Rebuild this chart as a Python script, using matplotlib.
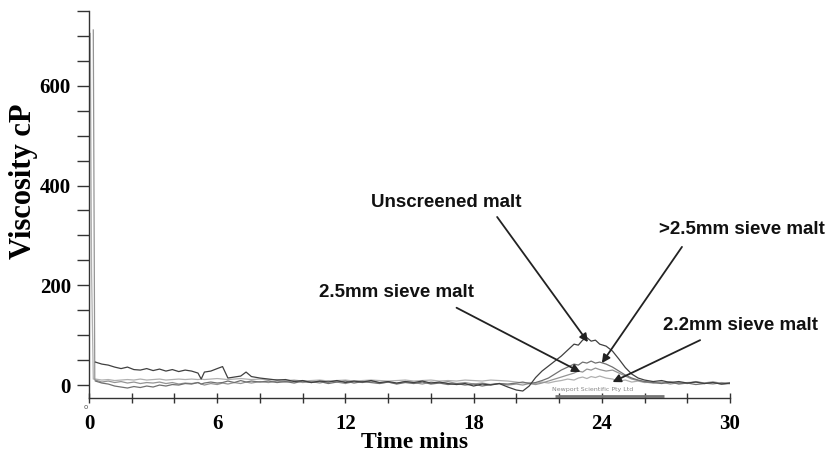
import numpy as np
import matplotlib
matplotlib.use('Agg')
import matplotlib.pyplot as plt

# shared time grid (minutes)
t = [0.3, 0.6, 0.9, 1.2, 1.5, 1.8, 2.1, 2.4, 2.7, 3.0, 3.3, 3.6, 3.9, 4.2, 4.5, 4.8, 5.1,
     5.25, 5.4, 5.7, 6.0, 6.25, 6.5, 6.8, 7.1, 7.35, 7.6,
     8.0, 8.4, 8.8, 9.2, 9.6, 10.0, 10.4, 10.8, 11.2, 11.6, 12.0, 12.4, 12.8, 13.2, 13.6,
     14.0, 14.4, 14.8, 15.2, 15.6, 16.0, 16.4, 16.8, 17.2, 17.6, 18.0, 18.4, 18.8, 19.2,
     19.6, 20.0,
     20.3, 20.6, 20.9, 21.2, 21.5, 21.8, 22.1, 22.4, 22.7,
     22.9, 23.1, 23.3, 23.5, 23.7, 23.9,
     24.2, 24.5, 24.8, 25.1, 25.4, 25.7, 26.0,
     26.4, 26.8, 27.2, 27.6, 28.0, 28.4, 28.8, 29.2, 29.6, 30.0]

unscreened = [46, 42, 40, 36, 33, 36, 31, 30, 33, 29, 32, 28, 31, 27, 30, 28, 24,
              12, 26, 28, 33, 37, 14, 16, 18, 26, 17,
              14, 12, 10, 11, 7, 9, 5, 8, 6, 9, 5, 8, 6, 9, 5, 7, 4, 7, 5, 8, 4, 6, 3, 1, 3,
              -2, 2, 0, 3, -4, -10,
              -12, -2, 15, 28, 38, 48, 58, 70, 82,
              80, 90, 95, 88, 90, 82,
              78, 68, 52, 35, 22, 14, 10,
              7, 9, 5, 7, 4, 6, 3, 5, 2, 4]

sieve_gt25 = [8, 4, 2, -2, -4, -6, -3, -5, -2, -4, 0, -2, 1, 0, 3, 2, 5,
              2, 4, 6, 4, 5, 8, 5, 9, 6, 8,
              6, 8, 5, 7, 4, 8, 5, 7, 3, 6, 8, 4, 7, 5, 3, 6, 2, 5, 3, 6, 2, 4, 1, 3, 0,
              2, -2, 1, 3, 2, 4,
              6, 3, 5, 9, 14, 22, 30, 36, 42,
              40, 46, 44, 48, 44, 46,
              42, 36, 28, 20, 14, 10, 7,
              5, 3, 6, 2, 4, 1, 3, 5, 2, 3]

sieve_25 = [10, 6, 8, 5, 7, 4, 6, 3, 5, 4, 6, 3, 5, 2, 4, 3, 5,
            2, 0, 3, 1, 4, 2, 5, 3, 6, 4,
            7, 5, 8, 6, 9, 5, 7, 4, 8, 6, 3, 7, 5, 8, 4, 6, 3, 7, 5, 2, 6, 4, 7, 3, 5,
            2, 4, 1, 3, 0, 2,
            0, 3, 1, 4, 8, 12, 16, 20, 24,
            28, 26, 32, 30, 34, 31,
            28, 30, 24, 18, 12, 9, 6,
            4, 6, 2, 5, 3, 7, 4, 2, 5, 3]

sieve_22 = [12, 10, 11, 9, 10, 11, 10, 12, 10, 11, 12, 10, 11, 12, 11, 12, 11,
            12, 11, 12, 13, 12, 11, 12, 13, 12, 11,
            12, 10, 11, 9, 10, 8, 9, 10, 8, 9, 10, 8, 9, 10, 9, 8, 9, 10, 8, 9, 10, 8, 9, 8,
            10, 9, 8, 10, 9, 8, 6,
            4, 5, 3, 6, 4, 7, 9, 12, 10,
            14, 16, 13, 17, 15, 18,
            14, 12, 8, 10, 6, 8, 5,
            6, 4, 7, 3, 5, 6, 4, 7, 3, 5]

# start-up spikes
spike_t_22 = [0.06, 0.12, 0.2]
spike_v_22 = [705, 225, 12]
spike_t_25 = [0.2, 0.27]
spike_v_25 = [712, 10]

xticks_major = [0, 6, 12, 18, 24, 30]
xticks_minor = [2, 4, 8, 10, 14, 16, 20, 22, 26, 28]
yticks_major = [0, 200, 400, 600]
yticks_minor = [50, 100, 150, 250, 300, 350, 450, 500, 550, 650, 700, 750]

fig = plt.figure(figsize=(8.35, 4.57), dpi=100)
ax = fig.add_axes([0.1066, 0.1291, 0.7677, 0.8468])

ax.plot(spike_t_22 + t, spike_v_22 + sieve_22, color='#b0b0b0', lw=0.9)
ax.plot(spike_t_25 + t, spike_v_25 + sieve_25, color='#949494', lw=0.9)
ax.plot(t, sieve_gt25, color='#707070', lw=0.9)
ax.plot(t, unscreened, color='#404040', lw=0.9)

# grey bar sitting on the x axis and the instrument watermark
ax.plot([21.8, 26.9], [-22, -22], color='#777777', lw=2, solid_capstyle='butt')
ax.text(23.55, -8, 'Newport Scientific Pty Ltd', fontsize=4.5, color='#888888',
        ha='center', va='center')

ax.set_xlim(0, 30)
ax.set_ylim(-26, 750)
for s in ['top', 'right']:
    ax.spines[s].set_visible(False)
for s in ['left', 'bottom']:
    ax.spines[s].set_color('#333333')
    ax.spines[s].set_linewidth(1.0)

ax.set_xticks(xticks_major)
ax.set_xticks(xticks_minor, minor=True)
ax.set_yticks(yticks_major)
ax.set_yticks(yticks_minor, minor=True)
ax.tick_params(axis='x', which='both', direction='inout', length=7, width=1,
               color='#333333', pad=8)
ax.tick_params(axis='y', which='both', direction='out', length=9, width=1,
               color='#333333', pad=4)
for lab in ax.get_xticklabels() + ax.get_yticklabels():
    lab.set_fontfamily('Liberation Serif')
    lab.set_fontweight('bold')
    lab.set_fontsize(15)

fig.text(24 / 835, 1 - 181 / 457, 'Viscosity cP', rotation=90, ha='center', va='center',
         fontsize=22, fontweight='bold', family='Liberation Serif')
fig.text(415 / 835, 1 - 443 / 457, 'Time mins', ha='center', va='center',
         fontsize=17, fontweight='bold', family='Liberation Serif')
fig.text(86 / 835, 1 - 407 / 457, 'o', ha='center', va='center', fontsize=5, color='#555555')

# annotations: (label, text position, arrow start, arrow tip)
notes = [('Unscreened malt', (16.7, 367), (19.1, 337), (23.35, 86)),
         ('>2.5mm sieve malt', (30.56, 311), (27.75, 277), (24.0, 44)),
         ('2.5mm sieve malt', (14.4, 185), (17.2, 155), (23.0, 26)),
         ('2.2mm sieve malt', (30.5, 120), (28.6, 90), (24.5, 6))]
for label, pos, start, tip in notes:
    ax.text(pos[0], pos[1], label, ha='center', va='center', fontsize=13.5,
            fontweight='bold', family='Liberation Sans', color='#111111', clip_on=False)
    ax.annotate('', xy=tip, xytext=start, annotation_clip=False,
                arrowprops=dict(arrowstyle='-|>', color='#222222', lw=1.3,
                                mutation_scale=12, shrinkA=0, shrinkB=0))

fig.savefig('out.png', dpi=100)
